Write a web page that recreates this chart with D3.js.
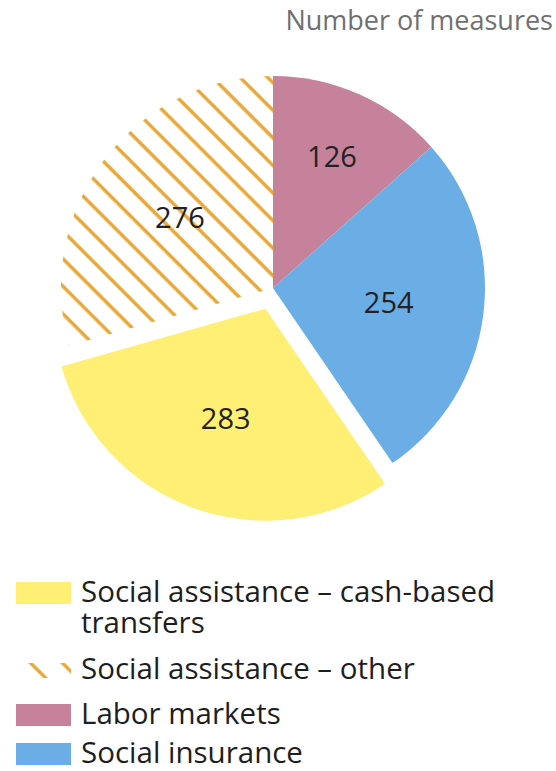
<!DOCTYPE html>
<html>
<head>
<meta charset="utf-8">
<script src="https://cdn.jsdelivr.net/npm/d3@7"></script>
<style>
  html, body { margin: 0; padding: 0; background: #fff; }
  svg { display: block; }
  text { font-family: "Open Sans", "Noto Sans", sans-serif; }
</style>
</head>
<body>
<svg id="chart" width="556" height="771"></svg>
<script>
// Measures by category (clockwise from 12 o'clock)
const categories = ["Labor markets", "Social insurance", "Social assistance – cash-based transfers", "Social assistance – other"];
const values = [126, 254, 283, 276];
const colors = ["#C5829A", "#6BAEE6", "#FFEF74", "hatch"];
const explode = [false, false, true, false];

// Legend order and text lines
const legendKeys = ["Social assistance – cash-based transfers", "Social assistance – other", "Labor markets", "Social insurance"];
const legendLines = [["Social assistance – cash-based", "transfers"], ["Social assistance – other"], ["Labor markets"], ["Social insurance"]];

const title = "Number of measures";

const svg = d3.select("#chart");
const W = 556;
const cx = 273, cy = 288, R = 212, pull = 22;
const hatchColor = "#E8A634";

// diagonal hatch patterns (pie and legend key)
const defs = svg.append("defs");
function hatchPattern(id, gap, ox, oy) {
  const p = defs.append("pattern")
    .attr("id", id)
    .attr("patternUnits", "userSpaceOnUse")
    .attr("width", gap).attr("height", 20)
    .attr("patternTransform", `translate(${ox},${oy}) rotate(-45)`);
  p.append("line")
    .attr("x1", 4).attr("x2", 4).attr("y1", -2).attr("y2", 22)
    .attr("stroke", hatchColor).attr("stroke-width", 3.4);
}
hatchPattern("hatch", 19.5, cx, cy + 6);
hatchPattern("hatchKey", 22.5, 30, 668);

const fillOf = (c, key) => c === "hatch" ? (key ? "url(#hatchKey)" : "url(#hatch)") : c;

const data = categories.map((c, i) => ({ name: c, value: values[i], color: colors[i], explode: explode[i] }));

const pie = d3.pie().sort(null).value(d => d.value).startAngle(0).endAngle(2 * Math.PI);
const arc = d3.arc().innerRadius(0).outerRadius(R);
const arcs = pie(data);

const g = svg.append("g").attr("transform", `translate(${cx},${cy})`);

const offset = d => {
  if (!d.data.explode) return [0, 0];
  const a = (d.startAngle + d.endAngle) / 2;
  return [Math.sin(a) * pull, -Math.cos(a) * pull];
};

g.selectAll("path.slice")
  .data(arcs)
  .join("path")
  .attr("class", "slice")
  .attr("d", arc)
  .attr("fill", d => fillOf(d.data.color))
  .attr("transform", d => `translate(${offset(d)})`);

// value labels: small slices get pushed further out
g.selectAll("text.val")
  .data(arcs)
  .join("text")
  .attr("class", "val")
  .attr("transform", d => {
    const a = (d.startAngle + d.endAngle) / 2;
    const rr = d.value < 200 ? R * 0.68 : R * 0.55;
    const o = offset(d);
    return `translate(${Math.sin(a) * rr + o[0]},${-Math.cos(a) * rr + o[1]})`;
  })
  .attr("text-anchor", "middle")
  .attr("dy", "0.36em")
  .attr("font-size", 29)
  .attr("fill", "#222")
  .text(d => d.value);

// title, top right
svg.append("text")
  .attr("x", W - 3).attr("y", 30)
  .attr("text-anchor", "end")
  .attr("font-size", 27)
  .attr("fill", "#707070")
  .text(title);

// legend
const rowY = [602, 679, 724, 763];
const leg = svg.append("g");
legendKeys.forEach((k, i) => {
  const d = data.find(x => x.name === k);
  const y = rowY[i];
  const isHatch = d.color === "hatch";
  leg.append("rect")
    .attr("x", 16).attr("y", isHatch ? y - 16 : y - 20)
    .attr("width", 55).attr("height", isHatch ? 15 : 22)
    .attr("fill", fillOf(d.color, true));
  legendLines[i].forEach((line, j) => {
    leg.append("text")
      .attr("x", 81).attr("y", y + j * 31)
      .attr("font-size", 29.5)
      .attr("fill", "#1e1e1e")
      .text(line);
  });
});
</script>
</body>
</html>
